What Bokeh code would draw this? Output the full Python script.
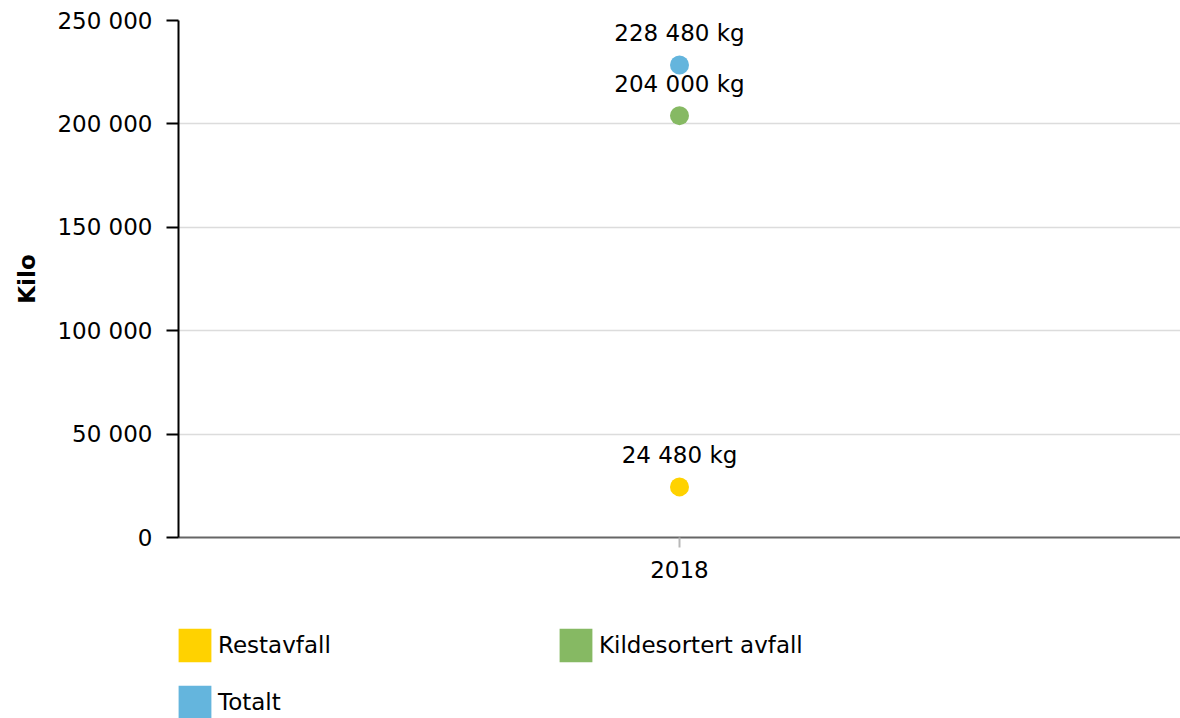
from bokeh.plotting import figure
from bokeh.layouts import column
from bokeh.models import (ColumnDataSource, FactorRange, Range1d, Legend, LegendItem,
                          CustomJSTickFormatter)
from bokeh.core.properties import value
from bokeh.embed import file_html
from bokeh.resources import INLINE

years = ["2018"]
series_names = ["Restavfall", "Kildesortert avfall", "Totalt"]
restavfall = [24480]
kildesortert = [204000]
totalt = [228480]
colors = ["#FFD200", "#86B963", "#64B5DD"]
y_ticks = [0, 50000, 100000, 150000, 200000, 250000]

FONT = "DejaVu Sans"
FS = "23px"


def fmt(v):
    return f"{v:,}".replace(",", " ") + " kg"


p = figure(x_range=FactorRange(*years, range_padding=0), y_range=Range1d(0, 250000),
           width=1180, height=600, output_backend="svg", toolbar_location=None,
           min_border_left=178, min_border_right=0, min_border_top=20, min_border_bottom=63)
p.outline_line_color = None
p.background_fill_color = "white"

# grid
p.xgrid.grid_line_color = None
p.ygrid.grid_line_color = "#dcdcdc"
p.ygrid.grid_line_width = 1.5

# y axis
p.yaxis.ticker = y_ticks
p.yaxis.formatter = CustomJSTickFormatter(
    code="return tick.toString().replace(/\\B(?=(\\d{3})+(?!\\d))/g, ' ');")
p.yaxis.axis_line_color = "black"
p.yaxis.axis_line_width = 2
p.yaxis.major_tick_line_color = "black"
p.yaxis.major_tick_line_width = 2
p.yaxis.major_tick_out = 12
p.yaxis.major_tick_in = 0
p.yaxis.minor_tick_line_color = None
p.yaxis.major_label_standoff = 14
p.yaxis.major_label_text_font = FONT
p.yaxis.major_label_text_font_size = FS
p.yaxis.major_label_text_color = "black"
p.yaxis.axis_label = "Kilo"
p.yaxis.axis_label_text_font = FONT
p.yaxis.axis_label_text_font_size = FS
p.yaxis.axis_label_text_font_style = "bold"
p.yaxis.axis_label_text_color = "black"
p.yaxis.axis_label_standoff = 14

# x axis
p.xaxis.axis_line_color = "#666666"
p.xaxis.axis_line_width = 2
p.xaxis.major_tick_line_color = "#b8b8b8"
p.xaxis.major_tick_line_width = 2
p.xaxis.major_tick_out = 10
p.xaxis.major_tick_in = 0
p.xaxis.major_label_standoff = 13
p.xaxis.major_label_text_font = FONT
p.xaxis.major_label_text_font_size = FS
p.xaxis.major_label_text_color = "black"

# legend figure
lg = figure(x_range=Range1d(0, 1), y_range=Range1d(0, 1), width=1180, height=118,
            output_backend="svg", toolbar_location=None,
            min_border_left=0, min_border_right=0, min_border_top=0, min_border_bottom=0)
lg.axis.visible = False
lg.grid.visible = False
lg.outline_line_color = None

series_vals = [restavfall, kildesortert, totalt]
legend_items = []
nan = float("nan")
for name, vals, col in zip(series_names, series_vals, colors):
    src = ColumnDataSource(dict(x=years, y=vals, lab=[fmt(v) for v in vals]))
    p.scatter(x="x", y="y", source=src, size=19, fill_color=col, line_color=None)
    p.text(x="x", y="y", text="lab", source=src, text_align="center", text_baseline="middle",
           y_offset=-32, text_font=value(FONT), text_font_size=FS, text_color="black")
    proxy = lg.quad(left=[nan], right=[nan], top=[nan], bottom=[nan], fill_color=col, line_color=None)
    legend_items.append(LegendItem(label=name, renderers=[proxy]))

legend = Legend(items=legend_items, location=(-4, -5), orientation="horizontal", ncols=2,
                glyph_width=41, glyph_height=42, label_standoff=3, spacing=15,
                label_width=322, padding=0, margin=0, border_line_color=None,
                background_fill_alpha=0, label_text_font=FONT, label_text_font_size=FS,
                label_text_color="black")
lg.add_layout(legend, "center")

open("out.html", "w").write(file_html(column(p, lg, spacing=0), INLINE))
